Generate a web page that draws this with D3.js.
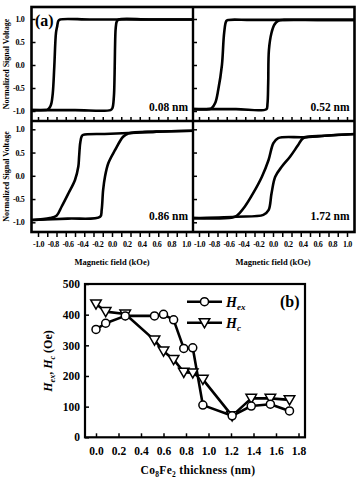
<!DOCTYPE html>
<html>
<head>
<meta charset="utf-8">
<script src="https://cdn.jsdelivr.net/npm/d3@7"></script>
<style>
    html, body { margin: 0; padding: 0; background: #fff; }
    svg { display: block; }
    text { font-family: "Liberation Serif", "DejaVu Serif", serif; font-weight: bold; fill: #000; }
</style>
</head>
<body>
<div id="chart"></div>
<script>
(function () {
    'use strict';

    // hysteresis loops (field in kOe, normalized signal); each loop = down sweep + up sweep
    var loop008Down = [[1.10, 0.99], [0.40, 0.99], [-0.30, 0.99], [-0.70, 0.99], [-0.725, 0.96], [-0.74, 0.85], [-0.757, 0.70],
        [-0.78, -0.04], [-0.80, -0.61], [-0.82, -0.84], [-0.84, -0.92], [-0.87, -0.97], [-0.90, -0.98], [-1.08, -0.98]];
    var loop008Up = [[-1.08, -0.98], [-0.50, -0.98], [-0.02, -0.98], [0.005, -0.94], [0.025, -0.70], [0.035, -0.20],
        [0.04, 0.30], [0.05, 0.80], [0.065, 0.95], [0.09, 0.99], [0.50, 0.99], [1.10, 0.99]];

    var loop052Down = [[1.10, 0.98], [0.40, 0.98], [-0.30, 0.98], [-0.60, 0.98], [-0.63, 0.96], [-0.66, 0.70], [-0.69, 0.00],
        [-0.74, -0.54], [-0.78, -0.82], [-0.83, -0.94], [-0.87, -0.96], [-1.08, -0.96]];
    var loop052Up = [[-1.08, -0.96], [-0.50, -0.96], [-0.09, -0.96], [-0.075, -0.85], [-0.065, -0.40], [-0.055, 0.33],
        [-0.02, 0.70], [0.02, 0.88], [0.07, 0.96], [0.15, 0.98], [0.60, 0.98], [1.10, 0.98]];

    var loop086Down = [[1.10, 0.97], [0.60, 0.95], [0.22, 0.92], [-0.10, 0.90], [-0.39, 0.88], [-0.41, 0.85], [-0.43, 0.70],
        [-0.445, 0.40], [-0.455, 0.20], [-0.50, -0.09], [-0.59, -0.38], [-0.68, -0.66], [-0.75, -0.86], [-0.84, -0.91], [-1.08, -0.95]];
    var loop086Up = [[-1.08, -0.95], [-0.60, -0.92], [-0.16, -0.88], [-0.14, -0.74], [-0.12, -0.31], [-0.095, -0.02],
        [-0.05, 0.27], [0.04, 0.55], [0.15, 0.84], [0.22, 0.91], [0.60, 0.95], [1.10, 0.97]];

    var loop172Down = [[1.10, 0.90], [0.70, 0.86], [0.41, 0.83], [0.07, 0.81], [0.005, 0.70], [-0.06, 0.34], [-0.15, -0.02],
        [-0.27, -0.38], [-0.38, -0.66], [-0.49, -0.86], [-0.56, -0.90], [-1.08, -0.91]];
    var loop172Up = [[-1.08, -0.91], [-0.50, -0.88], [-0.13, -0.84], [-0.06, -0.74], [-0.02, -0.38], [0.03, -0.02],
        [0.12, 0.20], [0.23, 0.41], [0.34, 0.66], [0.41, 0.81], [0.70, 0.86], [1.10, 0.90]];

    var panelLabels = ["0.08 nm", "0.52 nm", "0.86 nm", "1.72 nm"];
    var fieldTicks = [-1.0, -0.8, -0.6, -0.4, -0.2, 0.0, 0.2, 0.4, 0.6, 0.8, 1.0];
    var signalTicks = [-1.0, -0.5, 0.0, 0.5, 1.0];

    // panel (b): exchange bias and coercivity vs thickness
    var thickness = [0, 0.086, 0.26, 0.52, 0.60, 0.69, 0.78, 0.86, 0.95, 1.21, 1.38, 1.55, 1.72];
    var hexValues = [352, 372, 396, 396, 401, 383, 290, 292, 105, 70, 102, 108, 86];
    var hcValues = [435, 410, 402, 317, 281, 254, 212, 210, 189, 70, 127, 127, 122];
    var thickTicks = [0, 0.2, 0.4, 0.6, 0.8, 1.0, 1.2, 1.4, 1.6, 1.8];
    var oeTicks = [0, 100, 200, 300, 400, 500];

    // plain hyphen minus like the original figure
    var fmt1 = function (d) { return d.toFixed(1); };

    var W = 357, H = 478;
    var svg = d3.select("#chart").append("svg")
        .attr("width", W)
        .attr("height", H);

    // ---------- (a) four loops ----------
    var frameL = 31.5, frameR = 354.5, frameT = 7, frameB = 232, midX = 193, midY = 121;

    var panels = [
        { down: loop008Down, up: loop008Up, x0: frameL, x1: midX, y0: frameT, y1: midY, row: 0, col: 0 },
        { down: loop052Down, up: loop052Up, x0: midX, x1: frameR, y0: frameT, y1: midY, row: 0, col: 1 },
        { down: loop086Down, up: loop086Up, x0: frameL, x1: midX, y0: midY, y1: frameB, row: 1, col: 0 },
        { down: loop172Down, up: loop172Up, x0: midX, x1: frameR, y0: midY, y1: frameB, row: 1, col: 1 }
    ];

    var yRows = [
        d3.scaleLinear().domain([-1, 1]).range([111, 19]),
        d3.scaleLinear().domain([-1, 1]).range([222.3, 129.3])
    ];
    var xCols = [
        d3.scaleLinear().domain([-1, 1]).range([38, 186]),
        d3.scaleLinear().domain([-1, 1]).range([199, 347])
    ];

    var defs = svg.append("defs");
    var minorTicks = d3.range(-1, 1.0001, 0.125);

    panels.forEach(function (p, i) {
        var x = xCols[p.col], y = yRows[p.row];
        defs.append("clipPath").attr("id", "clipA" + i)
            .append("rect")
            .attr("x", p.x0).attr("y", p.y0)
            .attr("width", p.x1 - p.x0).attr("height", p.y1 - p.y0);

        var line = d3.line()
            .x(function (d) { return x(d[0]); })
            .y(function (d) { return y(d[1]); })
            .curve(d3.curveCatmullRom.alpha(0.5));

        var g = svg.append("g").attr("clip-path", "url(#clipA" + i + ")");
        [p.down, p.up].forEach(function (branch) {
            g.append("path")
                .datum(branch)
                .attr("d", line)
                .attr("fill", "none")
                .attr("stroke", "#000")
                .attr("stroke-width", 2.6)
                .attr("stroke-linejoin", "round");
        });

        // inward y ticks on left edge of every panel
        svg.append("g")
            .attr("transform", "translate(" + p.x0 + ",0)")
            .call(d3.axisRight(y).tickValues(signalTicks).tickSize(4).tickFormat(""))
            .call(function (a) { a.select(".domain").remove(); a.selectAll("line").attr("stroke-width", 1.5); });

        // x ticks: inward for top row, outward for bottom row
        var xt = svg.append("g").attr("transform", "translate(0," + p.y1 + ")");
        if (p.row === 0) {
            xt.call(d3.axisTop(x).tickValues(minorTicks).tickSize(4).tickFormat(""));
        } else {
            xt.call(d3.axisBottom(x).tickValues(minorTicks).tickSize(5).tickFormat(""));
            svg.append("g")
                .attr("transform", "translate(0," + p.y1 + ")")
                .call(d3.axisBottom(x).tickValues(fieldTicks).tickSize(0).tickPadding(9).tickFormat(fmt1))
                .call(function (a) {
                    a.select(".domain").remove();
                    a.selectAll("text").attr("font-size", 8).attr("font-family", null).attr("letter-spacing", -0.4);
                });
            svg.append("text")
                .attr("x", x(0))
                .attr("y", 265)
                .attr("text-anchor", "middle")
                .attr("font-size", 8.5)
                .text("Magnetic field (kOe)");
        }
        xt.select(".domain").remove();
        xt.selectAll("line").attr("stroke-width", 1.5);

        svg.append("text")
            .attr("x", p.x1 - 5)
            .attr("y", p.row === 0 ? 111 : 220)
            .attr("text-anchor", "end")
            .attr("font-size", 11.5)
            .text(panelLabels[i]);

        if (p.col === 0) {
            svg.append("g")
                .attr("transform", "translate(" + (p.x0 - 4) + ",0)")
                .call(d3.axisLeft(y).tickValues(signalTicks).tickSize(0).tickPadding(3).tickFormat(fmt1))
                .call(function (a) {
                    a.select(".domain").remove();
                    a.selectAll("text").attr("font-size", 8).attr("font-family", null).attr("letter-spacing", -0.3);
                });
            svg.append("text")
                .attr("transform", "translate(9," + ((p.y0 + p.y1) / 2) + ") rotate(-90)")
                .attr("text-anchor", "middle")
                .attr("font-size", 8)
                .text("Normalized Signal Voltage");
        }
    });

    // frame and dividers
    svg.append("rect")
        .attr("x", frameL).attr("y", frameT)
        .attr("width", frameR - frameL).attr("height", frameB - frameT)
        .attr("fill", "none").attr("stroke", "#000").attr("stroke-width", 2.6);
    svg.append("line").attr("x1", midX).attr("x2", midX).attr("y1", frameT).attr("y2", frameB)
        .attr("stroke", "#000").attr("stroke-width", 2.4);
    svg.append("line").attr("x1", frameL).attr("x2", frameR).attr("y1", midY).attr("y2", midY)
        .attr("stroke", "#000").attr("stroke-width", 2.4);

    svg.append("text")
        .attr("x", 35).attr("y", 26)
        .attr("font-size", 16)
        .text("(a)");

    // ---------- (b) Hex, Hc vs thickness ----------
    var bL = 85, bR = 305, bT = 284, bB = 437.3;
    var xb = d3.scaleLinear().domain([0, 1.8]).range([96, 298.5]);
    var yb = d3.scaleLinear().domain([0, 500]).range([bB, bT]);

    svg.append("g")
        .attr("transform", "translate(" + bL + ",0)")
        .call(d3.axisRight(yb).tickValues(oeTicks).tickSize(4).tickFormat(""))
        .call(function (a) { a.select(".domain").remove(); a.selectAll("line").attr("stroke-width", 1.5); });
    svg.append("g")
        .attr("transform", "translate(0," + bB + ")")
        .call(d3.axisTop(xb).tickValues(thickTicks).tickSize(4).tickFormat(""))
        .call(function (a) { a.select(".domain").remove(); a.selectAll("line").attr("stroke-width", 1.5); });

    svg.append("g")
        .attr("transform", "translate(" + (bL - 5) + ",0)")
        .call(d3.axisLeft(yb).tickValues(oeTicks).tickSize(0).tickPadding(0))
        .call(function (a) {
            a.select(".domain").remove();
            a.selectAll("text").attr("font-size", 11.5).attr("font-family", null);
        });
    svg.append("g")
        .attr("transform", "translate(0," + bB + ")")
        .call(d3.axisBottom(xb).tickValues(thickTicks).tickSize(0).tickPadding(10).tickFormat(fmt1))
        .call(function (a) {
            a.select(".domain").remove();
            a.selectAll("text").attr("font-size", 11.5).attr("font-family", null);
        });

    var hexPts = thickness.map(function (t, i) { return [t, hexValues[i]]; });
    var hcPts = thickness.map(function (t, i) { return [t, hcValues[i]]; });

    var bLine = d3.line()
        .x(function (d) { return xb(d[0]); })
        .y(function (d) { return yb(d[1]); });

    [hexPts, hcPts].forEach(function (pts) {
        svg.append("path")
            .datum(pts)
            .attr("d", bLine)
            .attr("fill", "none")
            .attr("stroke", "#000")
            .attr("stroke-width", 2.6)
            .attr("stroke-linejoin", "round");
    });

    var tri = d3.symbol().type(d3.symbolTriangle).size(48);

    function drawCircle(sel, cx, cy) {
        sel.append("circle")
            .attr("cx", cx).attr("cy", cy).attr("r", 4)
            .attr("fill", "#fff").attr("stroke", "#000").attr("stroke-width", 1.5);
    }
    function drawTri(sel, cx, cy) {
        sel.append("path")
            .attr("d", tri)
            .attr("transform", "translate(" + cx + "," + (cy - 1) + ") rotate(180)")
            .attr("fill", "#fff").attr("stroke", "#000").attr("stroke-width", 1.5);
    }

    hcPts.forEach(function (d) { drawTri(svg, xb(d[0]), yb(d[1])); });
    hexPts.forEach(function (d) { drawCircle(svg, xb(d[0]), yb(d[1])); });

    svg.append("rect")
        .attr("x", bL).attr("y", bT)
        .attr("width", bR - bL).attr("height", bB - bT)
        .attr("fill", "none").attr("stroke", "#000").attr("stroke-width", 2.2);

    // legend
    var legend = [
        { y: 301.7, sub: "ex", mark: drawCircle },
        { y: 322.7, sub: "c", mark: drawTri }
    ];
    legend.forEach(function (l) {
        svg.append("line")
            .attr("x1", 187).attr("x2", 222).attr("y1", l.y).attr("y2", l.y)
            .attr("stroke", "#000").attr("stroke-width", 2.6);
        l.mark(svg, 204.5, l.y);
        var t = svg.append("text")
            .attr("x", 226).attr("y", l.y + 5)
            .attr("font-size", 14)
            .attr("font-style", "italic")
            .attr("font-weight", "normal");
        t.append("tspan").text("H");
        t.append("tspan").attr("font-size", 9).attr("dy", 3).text(l.sub);
    });

    svg.append("text")
        .attr("x", 280).attr("y", 307)
        .attr("font-size", 16)
        .text("(b)");

    // axis titles
    var yTitle = svg.append("text")
        .attr("transform", "translate(52,361) rotate(-90)")
        .attr("text-anchor", "middle")
        .attr("font-size", 12);
    yTitle.append("tspan").attr("font-style", "italic").text("H");
    yTitle.append("tspan").attr("font-style", "italic").attr("font-size", 8).attr("dy", 3).text("ex");
    yTitle.append("tspan").attr("dy", -3).text(", ");
    yTitle.append("tspan").attr("font-style", "italic").text("H");
    yTitle.append("tspan").attr("font-style", "italic").attr("font-size", 8).attr("dy", 3).text("c");
    yTitle.append("tspan").attr("dy", -3).text(" (Oe)");

    var xTitle = svg.append("text")
        .attr("x", 198).attr("y", 474)
        .attr("text-anchor", "middle")
        .attr("font-size", 11.5)
        .attr("letter-spacing", 0.3);
    xTitle.append("tspan").text("Co");
    xTitle.append("tspan").attr("font-size", 7.5).attr("dy", 3).text("8");
    xTitle.append("tspan").attr("dy", -3).text("Fe");
    xTitle.append("tspan").attr("font-size", 7.5).attr("dy", 3).text("2");
    xTitle.append("tspan").attr("dy", -3).text(" thickness (nm)");
})();
</script>
</body>
</html>
